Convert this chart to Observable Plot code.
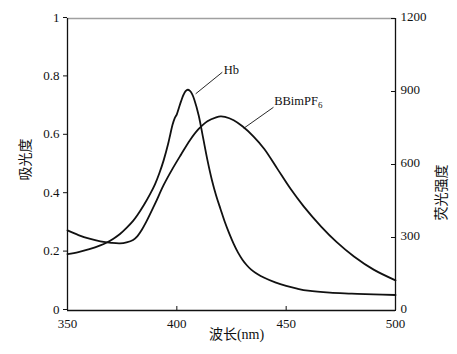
<!DOCTYPE html>
<html><head><meta charset="utf-8">
<script src="https://cdn.jsdelivr.net/npm/d3@7"></script>
<script src="https://cdn.jsdelivr.net/npm/@observablehq/plot@0.6"></script>
<style>html,body{margin:0;padding:0;background:#fff;}</style>
</head><body><div id="chart"></div>
<script>
// Hb absorbance (left axis)
const hbWavelength = [350,355,360,365,368,371,374,377,380,382,385,388,390,392,394,396,397,398,399,400,401,402,403,404,405,406,407,408,410,412,414,416,418,420,422,424,426,428,430,432,434,437,440,445,450,455,460,470,480,490,500];
const hbAbsorbance = [0.193,0.200,0.210,0.223,0.233,0.246,0.262,0.283,0.307,0.327,0.362,0.402,0.432,0.470,0.515,0.570,0.603,0.635,0.658,0.672,0.695,0.718,0.738,0.751,0.756,0.752,0.741,0.722,0.668,0.592,0.515,0.448,0.393,0.347,0.302,0.263,0.228,0.198,0.174,0.155,0.140,0.124,0.112,0.096,0.084,0.075,0.068,0.061,0.058,0.055,0.053];
// BBimPF6 fluorescence intensity (right axis)
const bbWavelength = [350,355,360,365,370,374,377,380,382,384,386,390,394,398,402,406,410,414,418,420,422,426,430,435,440,446,452,458,466,473,481,490,500];
const bbIntensity = [329,310,295,284,278,276,280,290,306,332,364,438,516,582,642,700,746,778,794,798,796,782,757,716,664,582,500,428,345,282,222,168,124];

const xTicks = [350,400,450,500];
const xInnerTicks = [400,450];
const absTicks = [0,0.2,0.4,0.6,0.8,1];
const absTickLabels = ["0","0.2","0.4","0.6","0.8","1"];
const fluoTicks = [0,300,600,900,1200];
const fluoMax = 1200;

const xTitle = "波长(nm)";
const leftTitle = "吸光度";
const rightTitle = "荧光强度";

// annotations (wavelength, absorbance-scale position)
const annText = ["Hb","BBimPF₆"];
const annNm = [421.5,444.5];
const annVal = [0.822,0.716];
const leadNm1 = [420.8,444.2];
const leadVal1 = [0.816,0.696];
const leadNm2 = [408.6,430.6];
const leadVal2 = [0.742,0.624];

const hb = hbWavelength.map((x,i)=>({x, y: hbAbsorbance[i]}));
const bb = bbWavelength.map((x,i)=>({x, y: bbIntensity[i]/fluoMax}));
const ann = annText.map((t,i)=>({t, x: annNm[i], y: annVal[i]}));
const leads = leadNm1.map((x1,i)=>({x1, y1: leadVal1[i], x2: leadNm2[i], y2: leadVal2[i]}));

const serif = "'Liberation Serif', 'Noto Sans CJK SC', serif";

const chart = Plot.plot({
  width: 457, height: 354,
  marginLeft: 67, marginRight: 62, marginTop: 18, marginBottom: 44,
  style: {fontFamily: serif, fontSize: "13px", background: "white", color: "#111"},
  x: {domain: [350, 500]},
  y: {domain: [0, 1]},
  marks: [
    Plot.ruleY([1], {stroke: "#a0a0a0", strokeWidth: 1.5}),
    Plot.ruleX([350, 500], {stroke: "#111", strokeWidth: 1.3}),
    Plot.ruleY([0], {stroke: "#111", strokeWidth: 1.3}),
    Plot.axisY(absTicks, {anchor: "left", tickSize: 4, tickPadding: 4, dy: -1, tickFormat: d => absTickLabels[absTicks.indexOf(d)], label: null}),
    Plot.axisY(fluoTicks.map(v => v/fluoMax), {anchor: "right", tickSize: 5, insetRight: 5, fill: "none", label: null}),
    Plot.axisY(fluoTicks.map(v => v/fluoMax), {anchor: "right", tickSize: 0, tickPadding: 5, dy: -2, tickFormat: d => String(Math.round(d*fluoMax)), label: null}),
    Plot.axisX(xInnerTicks, {anchor: "bottom", tickSize: 4, insetBottom: 4, fill: "none", label: null}),
    Plot.axisX(xTicks, {anchor: "bottom", tickSize: 0, tickPadding: 8, label: null}),
    Plot.line(hb, {x: "x", y: "y", curve: "catmull-rom", stroke: "#111", strokeWidth: 1.8}),
    Plot.line(bb, {x: "x", y: "y", curve: "catmull-rom", stroke: "#111", strokeWidth: 1.8}),
    Plot.link(leads, {x1: "x1", y1: "y1", x2: "x2", y2: "y2", stroke: "#111", strokeWidth: 0.9}),
    Plot.text(ann, {x: "x", y: "y", text: "t", textAnchor: "start", fontSize: 12.5, fill: "#111"}),
    Plot.text([leftTitle], {frameAnchor: "left", dx: -42, dy: 16, rotate: -90, fontSize: 14, fill: "#111"}),
    Plot.text([rightTitle], {frameAnchor: "right", dx: 46, dy: 0, rotate: -90, fontSize: 14, fill: "#111"}),
    Plot.text([xTitle], {frameAnchor: "bottom", dx: 5, dy: 28, fontSize: 14, fill: "#111"})
  ]
});
// render the subscript of BBimPF6 as a real tspan
chart.querySelectorAll("text").forEach(t => {
  if (t.textContent === "BBimPF₆") {
    t.textContent = "BBimPF";
    const s = document.createElementNS("http://www.w3.org/2000/svg", "tspan");
    s.setAttribute("font-size", "9");
    s.setAttribute("dy", "3");
    s.textContent = "6";
    t.appendChild(s);
  }
});
document.getElementById("chart").appendChild(chart);
</script>
</body></html>
